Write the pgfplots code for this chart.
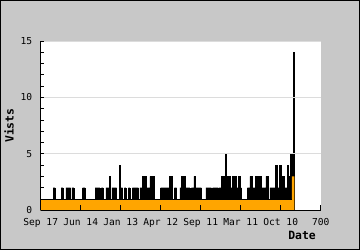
\documentclass[border=0pt]{standalone}
\usepackage{pgfplots}
\pgfplotsset{compat=1.18}
\usepackage{fontspec}
\setmonofont{DejaVu Sans Mono}
\definecolor{bggray}{RGB}{200,200,200}
\definecolor{gridgray}{RGB}{220,220,220}
\definecolor{orng}{RGB}{255,165,0}
\begin{document}
\begin{tikzpicture}[x=1pt,y=1pt]
\fill[bggray] (0,0) rectangle (360,250);
\draw[black, line width=1pt] (0.5,0.5) rectangle (359.5,249.5);
\begin{axis}[
  at={(40.7pt,39.7pt)}, anchor=south west,
  scale only axis, width=280pt, height=169.3pt,
  xmin=0, xmax=700, ymin=0, ymax=15,
  axis x line*=bottom, axis y line*=left,
  axis line style={black, -, line width=0.9pt},
  axis background/.style={fill=white},
  xtick={0,100,...,700},
  xticklabels={Sep 17, Jun 14, Jan 13, Apr 12, Sep 11, Mar 11, Oct 10, 700},
  ytick={0,5,10,15},
  minor ytick={1,2,3,4,6,7,8,9,11,12,13,14},
  ymajorgrids, grid style={gridgray, line width=0.9pt},
  tick align=inside,
  major tick length=3.3pt, minor tick length=3.3pt,
  xtick style={/pgfplots/major tick length=5.3pt},
  tick style={black, line width=0.9pt},
  axis on top,
  tick label style={font=\fontsize{9.6}{10}\ttfamily},
  /pgf/number format/assume math mode=true,
  yticklabel style={xshift=-5pt},
  xticklabel style={yshift=-4.5pt},
  xlabel={Date}, ylabel={Vists},
  every axis y label/.style={at={(axis description cs:-0.113,0.5)}, rotate=90, anchor=center, font=\fontsize{11.4}{12}\ttfamily\bfseries},
  every axis x label/.style={at={(axis description cs:0.995,-0.148)}, anchor=east, font=\fontsize{11.4}{12}\ttfamily\bfseries},
]
\addplot[const plot, fill=black, draw=black, line width=0.4pt] coordinates {
(0,1)
(31,2)(36,1)
(51,2)(56,1)
(63,2)(75,1)
(78,2)(83,1)
(105,2)(111,1)
(136,2)(148,1)
(152,2)(156,1)
(163,2)(171,3)(175,1)
(178,2)(190,1)
(196,4)(200,2)(205,1)
(209,2)(213,1)
(219,2)(223,1)
(229,2)(244,1)
(248,2)(254,3)(265,2)(273,3)(277,2)(280,3)(283,1)
(300,2)(322,3)(330,1)
(334,2)(340,1)
(348,2)(351,3)(361,2)(373,1)
(377,2)(383,3)(386,2)(402,1)
(413,2)(427,1)
(430,2)(444,1)
(446,2)(452,3)(458,1)
(461,5)(465,2)(467,3)(473,2)(480,3)(490,2)(494,3)(500,2)(502,1)
(517,2)(523,3)(530,2)(536,3)(542,2)(544,3)(552,2)(563,3)(569,1)
(573,2)(587,4)(591,2)(597,4)(601,2)(605,3)(608,2)(616,4)(620,3)(625,5)(632,14)(633.5,1)(634,1)
} \closedcycle;
\addplot[const plot, fill=orng, draw=none] coordinates {
(0,1)(628,3)(634,3)
} \closedcycle;
\addplot[black, line width=0.8pt] coordinates {(0,1)(628,1)};
\end{axis}
\end{tikzpicture}
\end{document}
